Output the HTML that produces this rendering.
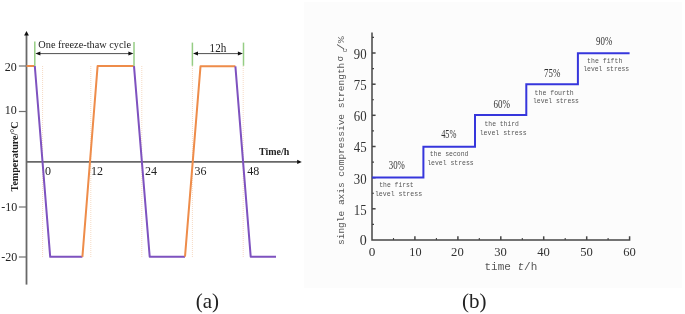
<!DOCTYPE html>
<html><head><meta charset="utf-8">
<style>
html,body{margin:0;padding:0;background:#fff;}
body{width:685px;height:314px;overflow:hidden;}
svg{display:block;filter:blur(0.3px);}
.serif{font-family:"Liberation Serif",serif;}
.mono{font-family:"Liberation Mono",monospace;}
</style></head>
<body>
<svg width="685" height="314" viewBox="0 0 685 314">
<!-- ============ LEFT CHART (a) ============ -->
<g id="left">
  <!-- dotted guide lines -->
  <g stroke="#f6dac4" stroke-width="1" stroke-dasharray="1 1" fill="none">
    <line x1="42.6" y1="66" x2="42.6" y2="257"/>
    <line x1="90.8" y1="66" x2="90.8" y2="257"/>
    <line x1="141.8" y1="66" x2="141.8" y2="257"/>
    <line x1="192.4" y1="66" x2="192.4" y2="257"/>
    <line x1="243.2" y1="66" x2="243.2" y2="257"/>
  </g>
  <!-- axes -->
  <g stroke="#686868" stroke-width="1.8" fill="none">
    <line x1="26.5" y1="284.6" x2="26.5" y2="35"/>
    <line x1="26.5" y1="161.9" x2="298" y2="161.9"/>
  </g>
  <g stroke="#707070" stroke-width="1.2" fill="none">
    <line x1="18.9" y1="66" x2="26.5" y2="66"/>
    <line x1="18.9" y1="111.5" x2="26.5" y2="111.5"/>
    <line x1="18.9" y1="207" x2="26.5" y2="207"/>
    <line x1="18.9" y1="257" x2="26.5" y2="257"/>
  </g>
  <polygon points="26.5,31 24.1,35.6 28.9,35.6" fill="#111"/>
  <polygon points="301.8,161.9 297.2,159.7 297.2,164.1" fill="#111"/>
  <!-- curves -->
  <g fill="none" stroke-width="2" stroke-linejoin="round">
    <polyline stroke="#ee8c4a" points="26.5,66 34.8,66"/>
    <polyline stroke="#7e52bf" points="34.8,66 50.2,256.8 82.4,256.8"/>
    <polyline stroke="#ee8c4a" points="82.4,256.8 97.6,66.1 134,66.1"/>
    <polyline stroke="#7e52bf" points="134,66.1 149.7,256.7 185,256.7"/>
    <polyline stroke="#ee8c4a" points="185,256.7 200.5,66.3 235.4,66.3"/>
    <polyline stroke="#7e52bf" points="235.4,66.3 250.7,256.7 276,256.7"/>
  </g>
  <!-- green markers -->
  <g stroke="#96cd84" stroke-width="1.5">
    <line x1="34.8" y1="41.5" x2="34.8" y2="66"/>
    <line x1="134" y1="42" x2="134" y2="66"/>
    <line x1="192.4" y1="42.6" x2="192.4" y2="65.8"/>
    <line x1="243.5" y1="42.6" x2="243.5" y2="65.8"/>
  </g>
  <!-- dimension arrows -->
  <g stroke="#505050" stroke-width="1">
    <line x1="38" y1="53.6" x2="131" y2="53.6"/>
    <line x1="196" y1="53.6" x2="240" y2="53.6"/>
  </g>
  <g fill="#111">
    <polygon points="35.4,53.6 40.4,51.6 40.4,55.6"/>
    <polygon points="133.4,53.6 128.4,51.6 128.4,55.6"/>
    <polygon points="193,53.6 198,51.6 198,55.6"/>
    <polygon points="242.9,53.6 237.9,51.6 237.9,55.6"/>
  </g>
  <!-- texts -->
  <g class="serif" fill="#222">
    <text x="38.3" y="47.6" font-size="10.6" textLength="92.7" lengthAdjust="spacingAndGlyphs">One freeze-thaw cycle</text>
    <text x="209.6" y="51.5" font-size="12.4" textLength="16.7" lengthAdjust="spacingAndGlyphs">12h</text>
    <g font-size="12" text-anchor="end">
      <text x="16.8" y="70.6">20</text>
      <text x="16.8" y="114.2">10</text>
      <text x="17.2" y="210.9">-10</text>
      <text x="17.2" y="260.9">-20</text>
    </g>
    <g font-size="12">
      <text x="45" y="174.7">0</text>
      <text x="91" y="174.7">12</text>
      <text x="144.9" y="174.7">24</text>
      <text x="194.6" y="174.7">36</text>
      <text x="247.3" y="174.7">48</text>
    </g>
    <text x="259" y="155.4" font-size="11" font-weight="bold" textLength="30.3" lengthAdjust="spacingAndGlyphs">Time/h</text>
    <text transform="translate(17.7,191.4) rotate(-90)" font-size="10" font-weight="bold" textLength="70" lengthAdjust="spacingAndGlyphs">Temperature/°C</text>
    <text x="195.7" y="307.5" font-size="21">(a)</text>
    <text x="461.9" y="307.5" font-size="21">(b)</text>
  </g>
</g>

<!-- ============ RIGHT CHART (b) ============ -->
<g id="right">
  <rect x="304" y="2" width="378" height="286" fill="#fcfcfc"/>
  <!-- axes -->
  <g stroke="#454545" stroke-width="1.5" fill="none">
    <polyline points="372,32.4 372,240 629.6,240 629.6,236.3"/>
    <!-- y major ticks -->
    <line x1="372" y1="208.8" x2="375.6" y2="208.8"/>
    <line x1="372" y1="177.7" x2="375.6" y2="177.7"/>
    <line x1="372" y1="146.5" x2="375.6" y2="146.5"/>
    <line x1="372" y1="115.3" x2="375.6" y2="115.3"/>
    <line x1="372" y1="84.2" x2="375.6" y2="84.2"/>
    <line x1="372" y1="53" x2="375.6" y2="53"/>
    <!-- x major ticks -->
    <line x1="414.9" y1="240" x2="414.9" y2="236.3"/>
    <line x1="457.9" y1="240" x2="457.9" y2="236.3"/>
    <line x1="500.8" y1="240" x2="500.8" y2="236.3"/>
    <line x1="543.7" y1="240" x2="543.7" y2="236.3"/>
    <line x1="586.7" y1="240" x2="586.7" y2="236.3"/>
  </g>
  <g stroke="#454545" stroke-width="1.1" fill="none">
    <!-- y minor -->
    <line x1="372" y1="224.4" x2="374" y2="224.4"/>
    <line x1="372" y1="193.2" x2="374" y2="193.2"/>
    <line x1="372" y1="162.1" x2="374" y2="162.1"/>
    <line x1="372" y1="130.9" x2="374" y2="130.9"/>
    <line x1="372" y1="99.8" x2="374" y2="99.8"/>
    <line x1="372" y1="68.6" x2="374" y2="68.6"/>
    <line x1="372" y1="37.4" x2="374" y2="37.4"/>
    <!-- x minor -->
    <line x1="393.5" y1="240" x2="393.5" y2="238"/>
    <line x1="436.4" y1="240" x2="436.4" y2="238"/>
    <line x1="479.3" y1="240" x2="479.3" y2="238"/>
    <line x1="522.3" y1="240" x2="522.3" y2="238"/>
    <line x1="565.2" y1="240" x2="565.2" y2="238"/>
    <line x1="608.1" y1="240" x2="608.1" y2="238"/>
  </g>
  <!-- step line -->
  <polyline fill="none" stroke="#3636dc" stroke-width="2" stroke-linejoin="miter"
    points="372,177.6 423.4,177.6 423.4,146.7 475,146.7 475,115 526.3,115 526.3,84.3 577.9,84.3 577.9,53.3 629.6,53.3"/>
  <!-- tick labels -->
  <g class="serif" fill="#333" font-size="13">
    <g text-anchor="end" font-size="14">
      <text x="366.8" y="245.2">0</text>
      <text x="366.6" y="214.5" textLength="12.8" lengthAdjust="spacingAndGlyphs">15</text>
      <text x="366.6" y="183.6" textLength="12.8" lengthAdjust="spacingAndGlyphs">30</text>
      <text x="366.6" y="152.4" textLength="12.8" lengthAdjust="spacingAndGlyphs">45</text>
      <text x="366.6" y="121.2" textLength="12.8" lengthAdjust="spacingAndGlyphs">60</text>
      <text x="366.6" y="90.1" textLength="12.8" lengthAdjust="spacingAndGlyphs">75</text>
      <text x="366.6" y="58.9" textLength="12.8" lengthAdjust="spacingAndGlyphs">90</text>
    </g>
    <g text-anchor="middle" font-size="13.2">
      <text x="372" y="255.9">0</text>
      <text x="415.4" y="255.9" textLength="12.2" lengthAdjust="spacingAndGlyphs">10</text>
      <text x="457.4" y="255.9" textLength="12.6" lengthAdjust="spacingAndGlyphs">20</text>
      <text x="500.6" y="255.9" textLength="12.6" lengthAdjust="spacingAndGlyphs">30</text>
      <text x="543.6" y="255.9" textLength="12.6" lengthAdjust="spacingAndGlyphs">40</text>
      <text x="586.6" y="255.9" textLength="12.6" lengthAdjust="spacingAndGlyphs">50</text>
      <text x="629.5" y="255.9" textLength="12.6" lengthAdjust="spacingAndGlyphs">60</text>
    </g>
    <!-- percent labels -->
    <g font-size="12">
      <text x="388.8" y="169.3" textLength="16.1" lengthAdjust="spacingAndGlyphs">30%</text>
      <text x="441.2" y="138.4" textLength="15.3" lengthAdjust="spacingAndGlyphs">45%</text>
      <text x="493.5" y="108.4" textLength="16.5" lengthAdjust="spacingAndGlyphs">60%</text>
      <text x="544.1" y="77.4" textLength="16.3" lengthAdjust="spacingAndGlyphs">75%</text>
      <text x="596.1" y="45" textLength="16.2" lengthAdjust="spacingAndGlyphs">90%</text>
    </g>
  </g>
  <g class="mono" fill="#555" font-size="8">
    <text x="379.3" y="187.3" textLength="34.4" lengthAdjust="spacingAndGlyphs">the first</text>
    <text x="374.9" y="196.2" textLength="47.2" lengthAdjust="spacingAndGlyphs">level stress</text>
    <text x="429.7" y="156.3" textLength="38.8" lengthAdjust="spacingAndGlyphs">the second</text>
    <text x="427.2" y="164.6" textLength="46.5" lengthAdjust="spacingAndGlyphs">level stress</text>
    <text x="484.5" y="126.3" textLength="34.4" lengthAdjust="spacingAndGlyphs">the third</text>
    <text x="479.7" y="135" textLength="46.9" lengthAdjust="spacingAndGlyphs">level stress</text>
    <text x="534.6" y="95" textLength="39.2" lengthAdjust="spacingAndGlyphs">the fourth</text>
    <text x="533" y="102.8" textLength="45.9" lengthAdjust="spacingAndGlyphs">level stress</text>
    <text x="587.1" y="63.4" textLength="35.2" lengthAdjust="spacingAndGlyphs">the fifth</text>
    <text x="583.3" y="71.4" textLength="45.9" lengthAdjust="spacingAndGlyphs">level stress</text>
  </g>
  <!-- axis titles -->
  <g class="mono" fill="#555">
    <text x="484.5" y="270.4" font-size="10" textLength="52.8" lengthAdjust="spacingAndGlyphs">time <tspan font-style="italic">t</tspan>/h</text>
    <text transform="translate(344,245) rotate(-90)" font-size="9.3" textLength="182.3" lengthAdjust="spacingAndGlyphs">single axis compressive strength</text>
    <text transform="translate(343.2,61.2) rotate(-90)" font-size="8.5">σ</text>
    <text transform="translate(347.3,52.2) rotate(-90)" font-size="6.5">c</text>
    <text transform="translate(344,50.2) rotate(-90)" font-size="9" textLength="14" lengthAdjust="spacingAndGlyphs">/%</text>
  </g>
</g>
</svg>
</body></html>
